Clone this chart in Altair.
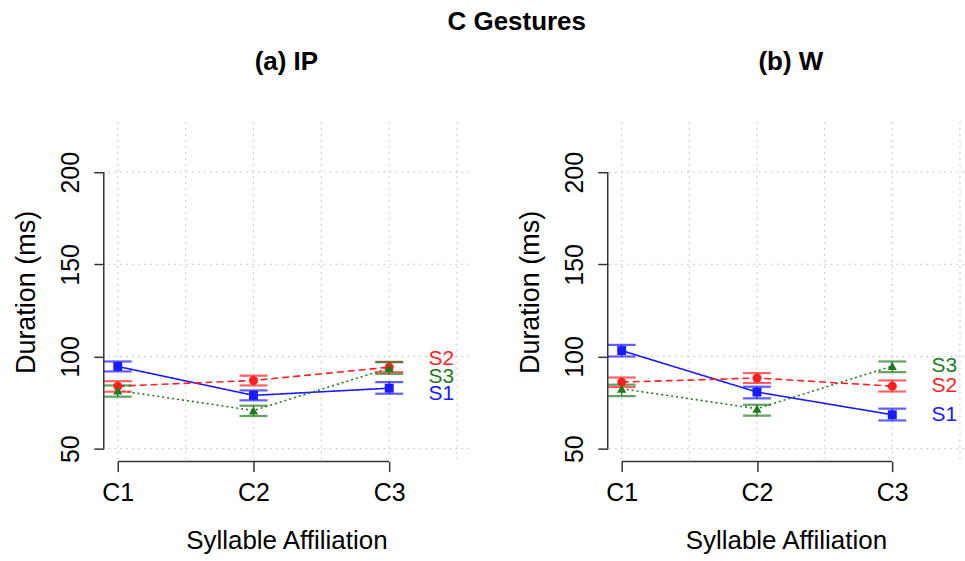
import json
import altair as alt
import pandas as pd

# ---------------- data ----------------
cats = ["C1", "C2", "C3"]
xpos = [1, 2, 3]
series = ["S1", "S2", "S3"]

# (a) IP
ip_s1 = [94.6, 78.9, 82.8]
ip_s1_lo = [91.9, 76.2, 79.8]
ip_s1_hi = [97.3, 81.6, 86.1]
ip_s2 = [83.9, 87.0, 94.2]
ip_s2_lo = [80.9, 84.3, 91.5]
ip_s2_hi = [86.6, 89.6, 97.1]
ip_s3 = [81.6, 70.7, 93.7]
ip_s3_lo = [78.2, 67.7, 90.6]
ip_s3_hi = [84.3, 73.3, 96.9]
ip_label_y = [79.8, 98.7, 89.0]

# (b) W
w_s1 = [103.2, 80.7, 68.4]
w_s1_lo = [100.0, 77.3, 65.3]
w_s1_hi = [106.3, 83.6, 71.7]
w_s2 = [86.1, 88.3, 83.9]
w_s2_lo = [83.4, 85.6, 81.0]
w_s2_hi = [88.6, 91.0, 87.0]
w_s3 = [82.5, 71.7, 94.8]
w_s3_lo = [78.5, 67.9, 91.5]
w_s3_hi = [84.7, 73.8, 97.3]
w_label_y = [68.4, 84.1, 94.9]

grid_x_vals = [1, 1.5, 2, 2.5, 3, 3.5]
grid_y_vals = [50, 100, 150, 200]
label_x = 3.29

# ---------------- styling ----------------
FONT = "Liberation Sans"
colors = ["#1a1aff", "#ff1f1f", "#1f7a1f"]
shapes = ["square", "circle", "triangle-up"]
marker_sizes = [80, 85, 105]
dashes = [[1, 0], [7, 4], [2, 3]]
H = 340
Y_DOM = [42.96, 227.07]
X_MIN = 0.897
AX_COL = "#333333"

x_axis = alt.Axis(values=xpos, labelExpr=json.dumps(cats) + "[datum.value - 1]",
                  domain=False, grid=False, ticks=True, tickSize=10, tickWidth=1.5,
                  tickColor=AX_COL, labelFontSize=25, labelColor="black", labelFont=FONT,
                  labelPadding=9, title="Syllable Affiliation", titleFontSize=26,
                  titleFont=FONT, titleFontWeight="normal", titleColor="black",
                  titlePadding=22)
y_axis = alt.Axis(values=grid_y_vals, domain=False, grid=False, ticks=True, tickSize=10,
                  tickWidth=1.5, tickColor=AX_COL, labelAngle=270, labelAlign="center",
                  labelBaseline="bottom", labelFontSize=25, labelColor="black",
                  labelFont=FONT, labelPadding=10, title="Duration (ms)",
                  titleFontSize=27, titleFont=FONT, titleFontWeight="normal",
                  titleColor="black", titlePadding=18)


def make_panel(title, means, los, his, label_y, x_max, width, title_dx):
    rows = []
    for si, s in enumerate(series):
        for ci, c in enumerate(cats):
            rows.append({"series": s, "cat": c, "x": xpos[ci],
                         "y": means[si][ci], "lo": los[si][ci], "hi": his[si][ci]})
    df = pd.DataFrame(rows)
    lab = pd.DataFrame({"series": series, "y": label_y, "x": [label_x] * 3})
    gxd = pd.DataFrame({"g": grid_x_vals})
    gyd = pd.DataFrame({"g": grid_y_vals})
    axx = pd.DataFrame({"a": [xpos[0]], "b": [xpos[-1]]})
    axy = pd.DataFrame({"a": [grid_y_vals[0]], "b": [grid_y_vals[-1]]})

    xs = alt.Scale(domain=[X_MIN, x_max], nice=False, zero=False)
    ys = alt.Scale(domain=Y_DOM, nice=False, zero=False)
    col = alt.Color("series:N", scale=alt.Scale(domain=series, range=colors), legend=None)

    def X(f):
        return alt.X(f, scale=xs, axis=x_axis)

    def Y(f):
        return alt.Y(f, scale=ys, axis=y_axis)

    grid_style = dict(color="#c8c8c8", strokeDash=[1.5, 4.5], strokeWidth=1.3)
    vgrid = alt.Chart(gxd).mark_rule(**grid_style).encode(x=X("g:Q"))
    hgrid = alt.Chart(gyd).mark_rule(**grid_style).encode(y=Y("g:Q"))
    yline = alt.Chart(axy).mark_rule(color=AX_COL, strokeWidth=1.5).encode(
        x=alt.value(0), y=Y("a:Q"), y2="b:Q")
    xline = alt.Chart(axx).mark_rule(color=AX_COL, strokeWidth=1.5).encode(
        y=alt.value(H), x=X("a:Q"), x2="b:Q")

    lines = alt.Chart(df).mark_line(strokeWidth=1.6).encode(
        x=X("x:Q"), y=Y("y:Q"), color=col,
        strokeDash=alt.StrokeDash("series:N", scale=alt.Scale(domain=series, range=dashes),
                                  legend=None))
    vbars = alt.Chart(df).mark_rule(strokeWidth=1.3).encode(
        x=X("x:Q"), y=Y("lo:Q"), y2="hi:Q", color=col)
    cap_lo = alt.Chart(df).mark_tick(orient="horizontal", size=28, thickness=2.2).encode(
        x=X("x:Q"), y=Y("lo:Q"), color=col)
    cap_hi = alt.Chart(df).mark_tick(orient="horizontal", size=28, thickness=2.2).encode(
        x=X("x:Q"), y=Y("hi:Q"), color=col)
    pts = alt.Chart(df).mark_point(filled=True, opacity=1).encode(
        x=X("x:Q"), y=Y("y:Q"), color=col,
        shape=alt.Shape("series:N", scale=alt.Scale(domain=series, range=shapes), legend=None),
        size=alt.Size("series:N", scale=alt.Scale(domain=series, range=marker_sizes),
                      legend=None))
    labels = alt.Chart(lab).mark_text(align="left", baseline="middle", fontSize=21,
                                      font=FONT).encode(
        x=X("x:Q"), y=Y("y:Q"), text="series:N", color=col)

    return alt.layer(vgrid, hgrid, yline, xline, lines, vbars, cap_lo, cap_hi, pts,
                     labels).properties(
        width=width, height=H,
        view=alt.ViewBackground(stroke="transparent", strokeWidth=0),
        title=alt.TitleParams(title, fontSize=26, font=FONT, fontWeight="bold",
                              color="black", anchor="middle", baseline="alphabetic",
                              offset=26, dx=title_dx))


left = make_panel("(a) IP",
                  [ip_s1, ip_s2, ip_s3], [ip_s1_lo, ip_s2_lo, ip_s3_lo],
                  [ip_s1_hi, ip_s2_hi, ip_s3_hi], ip_label_y, 3.588, 366, 0)
right = make_panel("(b) W",
                   [w_s1, w_s2, w_s3], [w_s1_lo, w_s2_lo, w_s3_lo],
                   [w_s1_hi, w_s2_hi, w_s3_hi], w_label_y, 3.53, 357, 5)

chart = alt.hconcat(left, right, spacing=47).properties(
    title=alt.TitleParams("C Gestures", fontSize=26, font=FONT, fontWeight="bold",
                          color="black", anchor="middle", baseline="alphabetic",
                          offset=-7, dx=28),
    padding={"left": 13, "top": 8, "right": 0, "bottom": 0},
    background="white",
).configure_view(stroke="transparent", strokeWidth=0).configure(font=FONT)

chart.save("out.html", embed_options={"renderer": "svg", "actions": False})
